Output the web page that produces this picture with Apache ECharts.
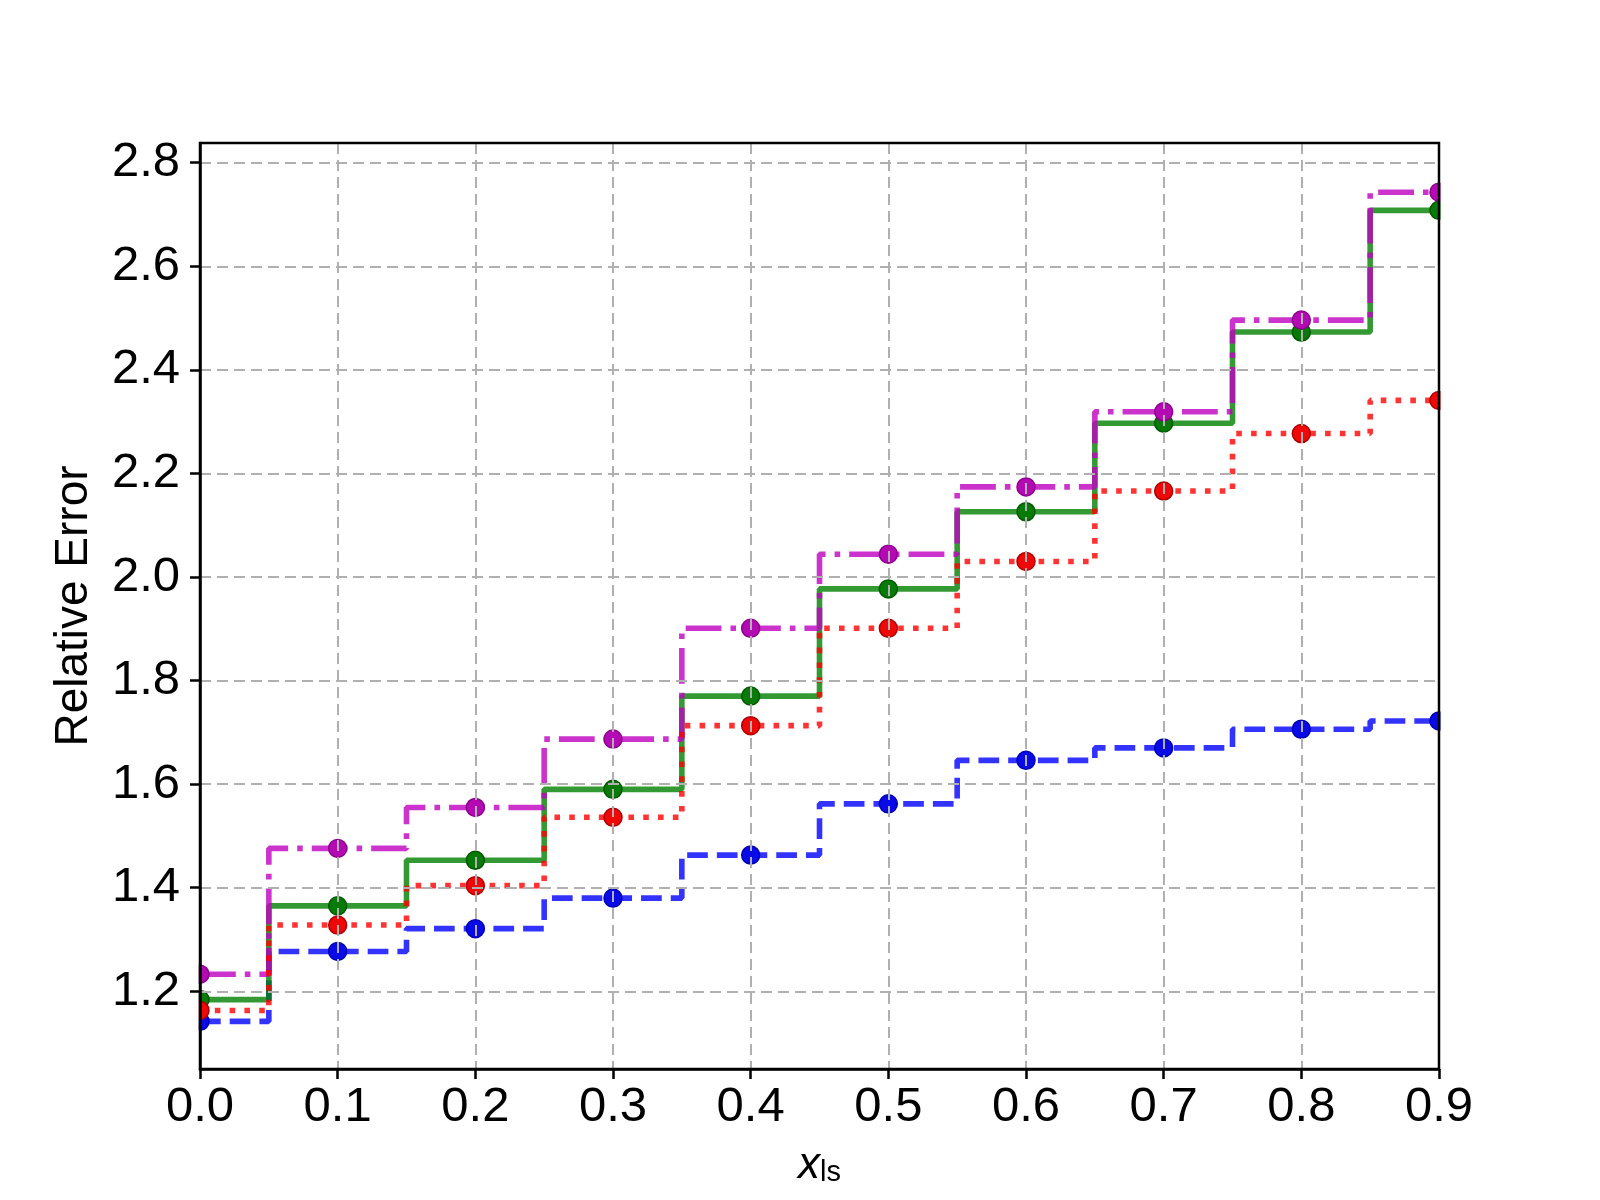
<!DOCTYPE html>
<html>
<head>
<meta charset="utf-8">
<script src="https://cdn.jsdelivr.net/npm/echarts@6/dist/echarts.min.js"></script>
<style>
  html, body { margin: 0; padding: 0; background: #ffffff; }
  #chart { width: 1600px; height: 1200px; }
</style>
</head>
<body>
<div id="chart"></div>
<script>
// ---- data ----
const xValues = [0.0, 0.1, 0.2, 0.3, 0.4, 0.5, 0.6, 0.7, 0.8, 0.9];
const blueSeries    = [1.142, 1.277, 1.321, 1.380, 1.463, 1.562, 1.646, 1.670, 1.706, 1.722];
const greenSeries   = [1.184, 1.365, 1.453, 1.590, 1.770, 1.977, 2.126, 2.297, 2.473, 2.708];
const magentaSeries = [1.233, 1.476, 1.555, 1.687, 1.901, 2.044, 2.174, 2.319, 2.496, 2.743];
const redSeries     = [1.163, 1.328, 1.404, 1.536, 1.713, 1.901, 2.030, 2.166, 2.277, 2.341];
const yTicks = [1.2, 1.4, 1.6, 1.8, 2.0, 2.2, 2.4, 2.6, 2.8];
const xTicks = [0.0, 0.1, 0.2, 0.3, 0.4, 0.5, 0.6, 0.7, 0.8, 0.9];
const yLabel = 'Relative Error';

const FONT = 'Liberation Sans';
const pair = ys => xValues.map((x, i) => [x, ys[i]]);

function stepSeries(name, ys, color, markerColor, edgeColor, dash) {
  return {
    name: name,
    type: 'line',
    step: 'middle',
    data: pair(ys),
    z: 2,
    clip: true,
    symbol: 'circle',
    symbolSize: 18,
    showSymbol: true,
    lineStyle: { color: color, width: 5.6, type: dash, opacity: 0.8, cap: 'butt' },
    itemStyle: { color: markerColor, opacity: 1, borderColor: edgeColor, borderWidth: 1.5 },
    emphasis: { disabled: true },
    animation: false
  };
}

const chart = echarts.init(document.getElementById('chart'), null, { renderer: 'canvas' });
const axisCommon = {
  z: 10,
  axisLine: { show: true, onZero: false, lineStyle: { color: '#000', width: 2.5 } },
  axisTick: { show: true, length: 10, lineStyle: { color: '#000', width: 2.5 } },
  splitLine: { show: true, lineStyle: { color: '#b0b0b0', width: 2, type: [11, 6] } }
};

chart.setOption({
  animation: false,
  backgroundColor: '#ffffff',
  grid: { left: 200, right: 161, top: 143, bottom: 131, show: true, borderColor: '#000', borderWidth: 2.5, z: 11 },
  xAxis: Object.assign({}, axisCommon, {
    type: 'value',
    min: 0, max: 0.9, interval: 0.1,
    axisLabel: {
      margin: 14, color: '#000', fontFamily: FONT, fontSize: 49,
      customValues: xTicks,
      formatter: v => Number(v).toFixed(1)
    },
    axisTick: Object.assign({}, axisCommon.axisTick, { customValues: xTicks }),
    name: '{x|x}{s|ls}',
    nameLocation: 'middle',
    nameGap: 70,
    nameTextStyle: {
      rich: {
        x: { fontFamily: FONT, fontStyle: 'italic', fontSize: 44, color: '#000', lineHeight: 44, verticalAlign: 'bottom' },
        s: { fontFamily: FONT, fontSize: 29, color: '#000', lineHeight: 29, padding: [22, 0, 0, 0], verticalAlign: 'bottom' }
      }
    }
  }),
  yAxis: Object.assign({}, axisCommon, {
    type: 'value',
    min: 1.05, max: 2.838,
    axisLabel: {
      margin: 20, color: '#000', fontFamily: FONT, fontSize: 49,
      customValues: yTicks,
      formatter: v => Number(v).toFixed(1)
    },
    axisTick: Object.assign({}, axisCommon.axisTick, { customValues: yTicks }),
    name: yLabel,
    nameLocation: 'middle',
    nameRotate: 90,
    nameGap: 103,
    nameTextStyle: { fontFamily: FONT, fontSize: 46, color: '#000' }
  }),
  graphic: [
    { type: 'rect', z: 5, shape: { x: 186, y: 140, width: 12.7, height: 932 }, style: { fill: '#ffffff' } },
    { type: 'rect', z: 5, shape: { x: 1440.5, y: 140, width: 14, height: 932 }, style: { fill: '#ffffff' } }
  ],
  series: [
    stepSeries('blue', blueSeries, '#0000ff', '#0a0ae6', '#0000b8', [20.7, 9]),
    stepSeries('green', greenSeries, '#008000', '#087a08', '#005a00', 'solid'),
    stepSeries('magenta', magentaSeries, '#bf00bf', '#b40ab4', '#8e008e', [35.8, 9, 5.6, 9]),
    stepSeries('red', redSeries, '#ff0000', '#ee0808', '#b00000', [5.6, 9.2])
  ]
});
</script>
</body>
</html>
